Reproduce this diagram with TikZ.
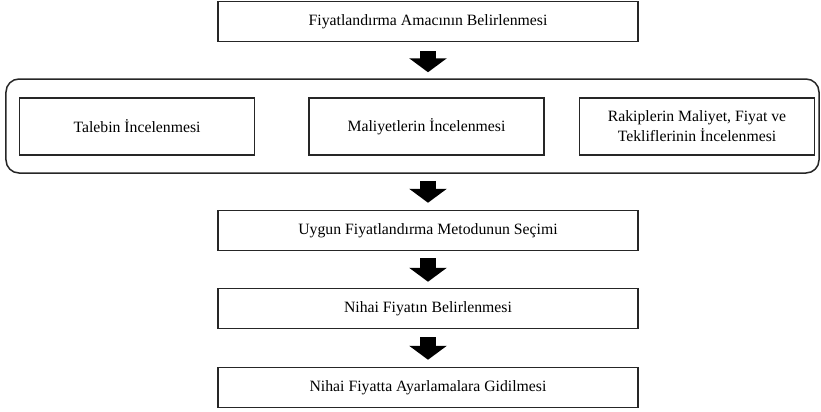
\documentclass[tikz,border=0pt]{standalone}
\usepackage{fontspec}
\setmainfont{Liberation Serif}
\usetikzlibrary{arrows.meta}
\begin{document}
\begin{tikzpicture}[x=1bp,y=-1bp,
  stepbox/.style={draw=black!85,line width=1.5bp,minimum width=420bp,minimum height=40bp,inner sep=2bp,font=\fontsize{15.8}{20}\selectfont,align=center},
  subbox/.style={stepbox,minimum width=235bp,minimum height=57bp},
  blockarrow/.style={line width=16bp,-{Triangle[width=37bp,length=14bp]}},
]
\useasboundingbox (0,0) rectangle (821,411);
\node[stepbox] (s1) at (428,21.5) {Fiyatlandırma Amacının Belirlenmesi};
\node[draw=black!85,line width=1.5bp,rounded corners=13bp,minimum width=813bp,minimum height=94bp] (grp) at (412.5,126) {};
\node[subbox] (a) at (137,126.5) {Talebin İncelenmesi};
\node[subbox] (b) at (426.5,126.5) {Maliyetlerin İncelenmesi};
\node[subbox] (c) at (697,126.5) {Rakiplerin Maliyet, Fiyat ve\\Tekliflerinin İncelenmesi};
\node[stepbox] (s3) at (428,230.5) {Uygun Fiyatlandırma Metodunun Seçimi};
\node[stepbox] (s4) at (428,308.5) {Nihai Fiyatın Belirlenmesi};
\node[stepbox] (s5) at (428,387.5) {Nihai Fiyatta Ayarlamalara Gidilmesi};
\draw[blockarrow] ([yshift=-9bp]s1.south) -- ([yshift=6bp]s1.south |- grp.north);
\draw[blockarrow] ([yshift=-7bp]s3.north |- grp.south) -- ([yshift=7bp]s3.north);
\draw[blockarrow] ([yshift=-7bp]s3.south) -- ([yshift=6bp]s4.north);
\draw[blockarrow] ([yshift=-8bp]s4.south) -- ([yshift=7bp]s5.north);
\end{tikzpicture}
\end{document}
